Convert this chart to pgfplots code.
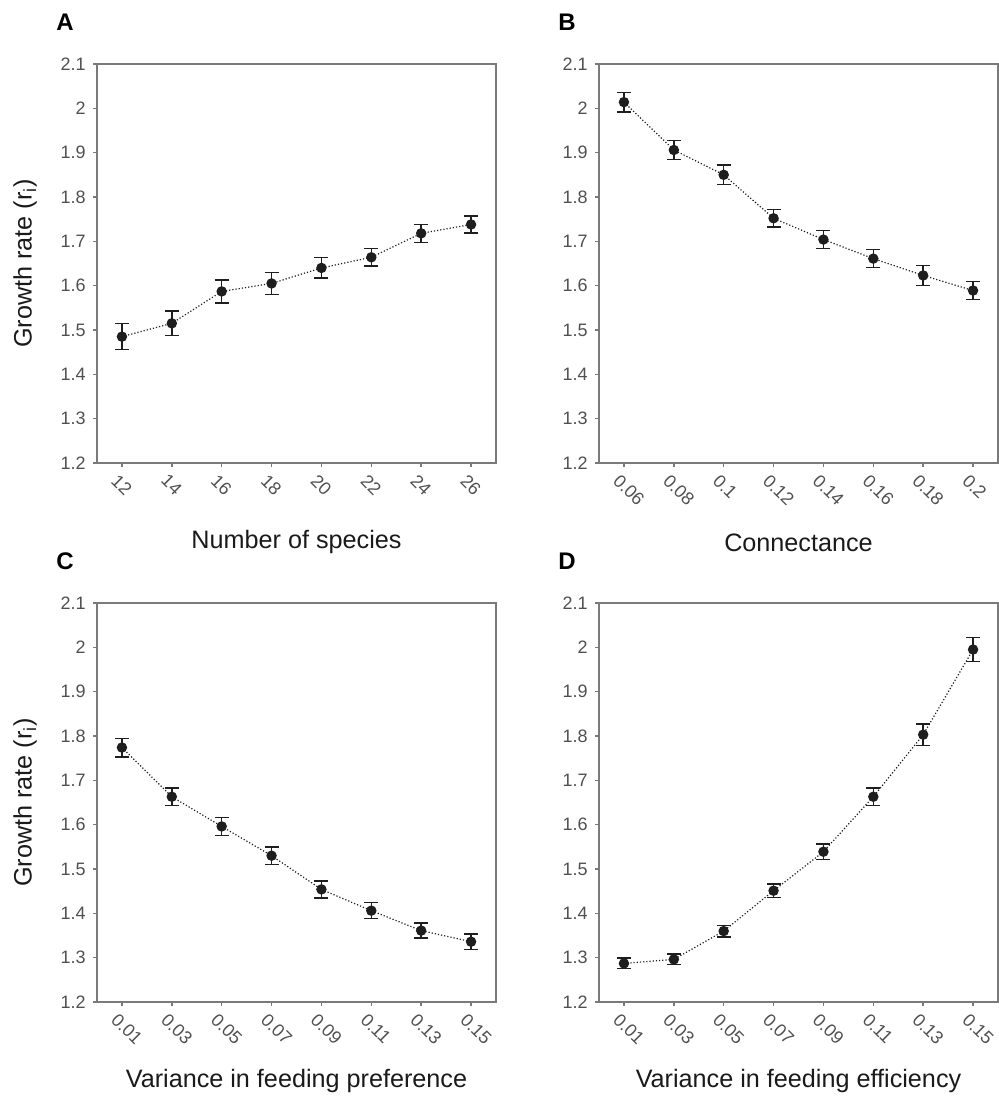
\documentclass[border=0pt]{standalone}
\usepackage{fontspec}
\setmainfont{Liberation Sans}
\usepackage{pgfplots}
\pgfplotsset{compat=1.18}
\usepackage{pgfplotstable}
\definecolor{axgray}{HTML}{7A7A7A}
\definecolor{ticktext}{HTML}{505050}
\definecolor{dot}{HTML}{1E1E1E}
\definecolor{labtext}{HTML}{1A1A1A}

\pgfplotstableread{
x y e
0 1.485 0.029
1 1.515 0.028
2 1.587 0.026
3 1.605 0.025
4 1.640 0.023
5 1.664 0.020
6 1.718 0.020
7 1.738 0.019
}\dataA
\pgfplotstableread{
x y e
0 2.014 0.022
1 1.906 0.021
2 1.850 0.022
3 1.752 0.020
4 1.704 0.020
5 1.661 0.020
6 1.623 0.023
7 1.589 0.020
}\dataB
\pgfplotstableread{
x y e
0 1.774 0.021
1 1.663 0.020
2 1.596 0.020
3 1.530 0.020
4 1.454 0.019
5 1.406 0.018
6 1.361 0.017
7 1.336 0.017
}\dataC
\pgfplotstableread{
x y e
0 1.287 0.012
1 1.296 0.012
2 1.360 0.013
3 1.451 0.015
4 1.539 0.017
5 1.663 0.020
6 1.803 0.024
7 1.995 0.027
}\dataD

\begin{document}
\begin{tikzpicture}
\pgfplotsset{
  panel/.style={
    scale only axis, width=199.5pt, height=199.5pt,
    anchor=south west,
    xmin=-0.5, xmax=7.5, ymin=1.2, ymax=2.1,
    xtick={0,1,2,3,4,5,6,7},
    ytick={1.2,1.3,1.4,1.5,1.6,1.7,1.8,1.9,2,2.1},
    /pgf/number format/assume math mode=true,
    tick align=outside, xtick pos=bottom, ytick pos=left,
    major tick length=2pt,
    axis line style={draw=axgray, line width=0.8pt},
    tick style={draw=axgray, line width=0.8pt},
    tick label style={font=\fontsize{9}{10}\selectfont, text=ticktext},
    xticklabel style={rotate=-45, anchor=north west, inner sep=1pt, yshift=-2pt},
    yticklabel style={inner sep=1pt, xshift=-2.5pt},
    every axis x label/.style={at={(axis description cs:0.5,-0.199)}, anchor=center,
      font=\fontsize{12.6}{15}\selectfont, text=labtext},
    every axis y label/.style={at={(axis description cs:-0.18,0.5)}, rotate=90, anchor=center,
      font=\fontsize{12.6}{15}\selectfont, text=labtext},
  },
  series/.style={
    densely dotted, line width=0.6pt, color=dot,
    mark=*, mark size=2.3pt, mark options={solid, fill=dot, draw=dot},
    error bars/.cd, y dir=both, y explicit,
    error bar style={solid, line width=0.7pt, color=dot},
    error mark options={rotate=90, mark size=3.5pt, line width=0.7pt, color=dot, solid},
  },
}
\begin{axis}[panel, at={(48.5pt,317pt)},
  xticklabels={12,14,16,18,20,22,24,26},
  xlabel={Number of species}, ylabel={Growth rate (r\textsubscript{i})}]
\addplot[series] table[x=x, y=y, y error=e]{\dataA};
\end{axis}
\begin{axis}[panel, at={(299.5pt,317pt)},
  xticklabels={0.06,0.08,0.1,0.12,0.14,0.16,0.18,0.2},
  xlabel={Connectance}]
\addplot[series] table[x=x, y=y, y error=e]{\dataB};
\end{axis}
\begin{axis}[panel, at={(48.5pt,47.5pt)},
  xticklabels={0.01,0.03,0.05,0.07,0.09,0.11,0.13,0.15},
  xlabel={Variance in feeding preference}, ylabel={Growth rate (r\textsubscript{i})}]
\addplot[series] table[x=x, y=y, y error=e]{\dataC};
\end{axis}
\begin{axis}[panel, at={(299.5pt,47.5pt)},
  xticklabels={0.01,0.03,0.05,0.07,0.09,0.11,0.13,0.15},
  xlabel={Variance in feeding efficiency}]
\addplot[series] table[x=x, y=y, y error=e]{\dataD};
\end{axis}
\begin{scope}[every node/.style={font=\bfseries\fontsize{12}{14}\selectfont, text=black}]
\node at (32.5pt,537.5pt) {A};
\node at (283.5pt,537.5pt) {B};
\node at (32.5pt,268pt) {C};
\node at (283.5pt,268pt) {D};
\end{scope}
\pgfresetboundingbox
\useasboundingbox (0,0) rectangle (499pt,548.5pt);
\end{tikzpicture}
\end{document}
